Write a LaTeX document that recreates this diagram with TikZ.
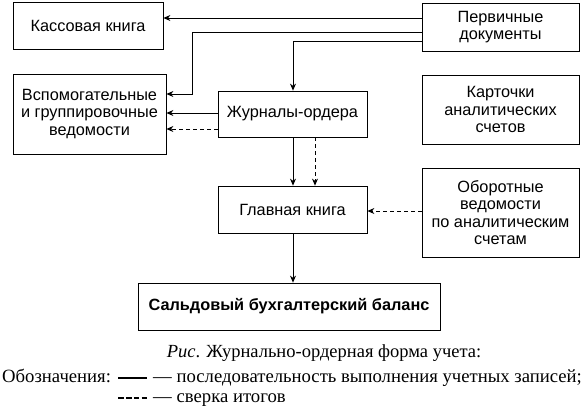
\documentclass[tikz,border=0pt]{standalone}
\usepackage{fontspec}
\setmainfont{Liberation Serif}
\newfontfamily\boxfont{Liberation Sans}
\usetikzlibrary{arrows.meta}
\begin{document}
\begin{tikzpicture}[x=1pt,y=-1pt,
  blk/.style={draw,line width=0.8pt,inner sep=0pt,align=center,font=\boxfont\fontsize{16.3}{17.5}\selectfont},
  conn/.style={line width=0.8pt,-{Stealth[length=7pt,width=6pt]}},
  dsh/.style={conn,dash pattern=on 4pt off 3pt},
  legtext/.style={font=\fontsize{18.7}{20}\selectfont,anchor=base west,inner sep=0pt}]
\useasboundingbox (0,0) rectangle (587,407);
\node[blk,minimum width=150pt,minimum height=47pt] (kass) at (88,25.5) {Кассовая книга};
\node[blk,minimum width=157pt,minimum height=48pt] (perv) at (500.5,27) {Первичные\\документы};
\node[blk,minimum width=153pt,minimum height=80pt] (vsp) at (89.5,114) {Вспомогательные\\и группировочные\\ведомости};
\node[blk,minimum width=157pt,minimum height=69pt] (kart) at (500.5,109.5) {Карточки\\аналитических\\счетов};
\node[blk,minimum width=149pt,minimum height=46pt] (zhur) at (292.5,114) {Журналы-ордера};
\node[blk,minimum width=149pt,minimum height=47pt] (glav) at (292.5,209.5) {Главная книга};
\node[blk,minimum width=157pt,minimum height=89pt] (obor) at (500.5,212.5) {Оборотные\\ведомости\\по аналитическим\\счетам};
\node[blk,minimum width=302pt,minimum height=47pt,font=\boxfont\bfseries\fontsize{16.3}{17.5}\selectfont] (sald) at (289,306.5) {Сальдовый бухгалтерский баланс};
% connectors
\draw[conn] (perv.west |- 0,18) -- (kass.east |- 0,18);
\coordinate (c1) at (192,32);
\draw[conn] (perv.west |- 0,32) -- (c1) -- (192,94) -- (vsp.east |- 0,94);
\draw[conn] (perv.west |- 0,41) -- (293,41) -- (zhur.north -| 293,0);
\draw[conn] (zhur.west |- 0,113) -- (vsp.east |- 0,113);
\draw[dsh] (zhur.west |- 0,129) -- (vsp.east |- 0,129);
\draw[conn] (zhur.south -| 293,0) -- (glav.north -| 293,0);
\draw[dsh] (zhur.south -| 315,0) -- (glav.north -| 315,0);
\draw[dsh] (obor.west |- 0,211) -- (glav.east |- 0,211);
\draw[conn] (glav.south -| 293,0) -- (sald.north -| 293,0);
% caption
\node[font=\fontsize{18.5}{20}\selectfont,anchor=base] (cap) at (324,357) {\textit{Рис}. Журнально-ордерная форма учета:};
\node[legtext] (leg1) at (2,382) {Обозначения:};
\coordinate (s1) at (118,378);
\coordinate (s2) at (147,378);
\draw[line width=2pt] (s1) -- (s2);
\node[legtext] (leg2) at (153,382) {— последовательность выполнения учетных записей;};
\coordinate (d1) at (118,398);
\coordinate (d2) at (147.5,398);
\draw[line width=2pt,dash pattern=on 5.6pt off 2.3pt] (d1) -- (d2);
\node[legtext] (leg3) at (153,402) {— сверка итогов};
\end{tikzpicture}
\end{document}
